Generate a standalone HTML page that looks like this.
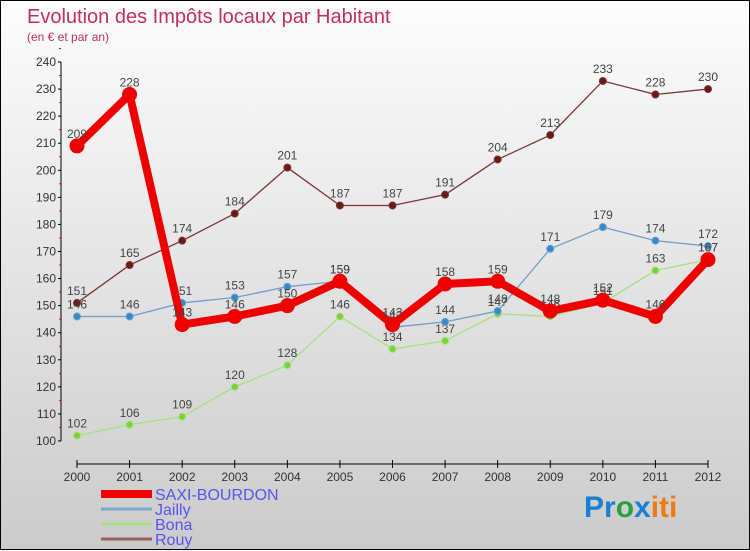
<!DOCTYPE html>
<html><head><meta charset="utf-8"><style>
body{margin:0;width:750px;height:550px;overflow:hidden;font-family:"Liberation Sans",sans-serif}
#wrap{position:relative;width:748px;height:548px;border:1px solid #000;background:linear-gradient(#fdfdfd,#cbcbcb)}
svg{position:absolute;left:0;top:0}
</style></head><body>
<div id="wrap">
<svg id="c" width="750" height="550">
<text x="26" y="22" font-size="20" fill="#c0305a">Evolution des Impôts locaux par Habitant</text>
<text x="26" y="40" font-size="12" fill="#c0305a">(en € et par an)</text>
<g id="axes"></g><g id="series"></g><g id="legend"></g>
<text x="583" y="516" font-size="30" font-weight="bold"><tspan fill="#1a7fd0">Pr</tspan><tspan fill="#2aa040">o</tspan><tspan fill="#1a7fd0">x</tspan><tspan fill="#f07a10">iti</tspan></text>
</svg></div>
<script>
const years=[2000,2001,2002,2003,2004,2005,2006,2007,2008,2009,2010,2011,2012];
const yTicks=[100,110,120,130,140,150,160,170,180,190,200,210,220,230,240];
const saxi=[209,228,143,146,150,159,143,158,159,148,152,146,167];
const jailly=[146,146,151,153,157,159,142,144,148,171,179,174,172];
const bona=[102,106,109,120,128,146,134,137,147,146,151,163,167];
const rouy=[151,165,174,184,201,187,187,191,204,213,233,228,230];
const NS='http://www.w3.org/2000/svg';
const X=i=>76+i*(707-76)/(years.length-1);
const Y=v=>440-(v-100)*(440-61)/140;
function mk(t,a,p){const e=document.createElementNS(NS,t);for(const k in a)e.setAttribute(k,a[k]);p.appendChild(e);return e;}
const ax=document.getElementById('axes');
const yl=mk('line',{x1:60,y1:61,x2:60,y2:440,stroke:'#000'},ax);


yTicks.forEach(v=>{
 mk('line',{x1:57,x2:60,y1:Y(v),y2:Y(v),stroke:'#000'},ax);
 mk('line',{x1:58,x2:60,y1:Y(v+5),y2:Y(v+5),stroke:'#e00'},ax);
 const t=mk('text',{x:55,y:Y(v)+4,'font-size':12,'text-anchor':'end',fill:'#333'},ax);t.textContent=v;
 
 
});
const xl=mk('line',{x1:76,y1:463,x2:707,y2:463,stroke:'#000'},ax);


years.forEach((y,i)=>{
 mk('line',{x1:X(i),x2:X(i),y1:459,y2:467,stroke:'#000'},ax);
 const t=mk('text',{x:X(i),y:480,'font-size':12,'text-anchor':'middle',fill:'#333'},ax);t.textContent=y;
 
 
});
const sg=document.getElementById('series');
function draw(data,name,col,dot,w,r){
 const g=mk('g',{},sg);
 
 
 const pl=mk('polyline',{points:data.map((v,i)=>X(i)+','+Y(v)).join(' '),fill:'none',stroke:col,'stroke-width':w,'stroke-linejoin':'round'},g);
 
 
 data.forEach((v,i)=>{
  const c=mk('circle',{cx:X(i),cy:Y(v),r:r,fill:dot,stroke:col,'stroke-width':1},g);
  
  
  const t=mk('text',{x:X(i),y:Y(v)-8,'font-size':12,'text-anchor':'middle',fill:'#444'},g);t.textContent=v;
  
  
 });
}
draw(rouy,'rouy','#7a3535','#6b1a1a',1.3,3.5);
draw(bona,'bona','#a8e080','#7cd040',1.3,3.5);
draw(jailly,'jailly','#6fa0cc','#3a88cc',1.3,3.5);
draw(saxi,'saxi-bourdon','#ee0000','#ee0000',8,7);
const lg=document.getElementById('legend');
[['SAXI-BOURDON','#ee0000',8,493],['Jailly','#7aaad0',3,508],['Bona','#a8e080',3,523],['Rouy','#9a6060',3,538]].forEach(([n,c,w,y])=>{
 const l=mk('line',{x1:100,x2:151,y1:y,y2:y,stroke:c,'stroke-width':w},lg);
 
 
 const t=mk('text',{x:154,y:y+6,'font-size':16,fill:'#5555ee'},lg);t.textContent=n;
 
 
});
</script>
</body></html>
